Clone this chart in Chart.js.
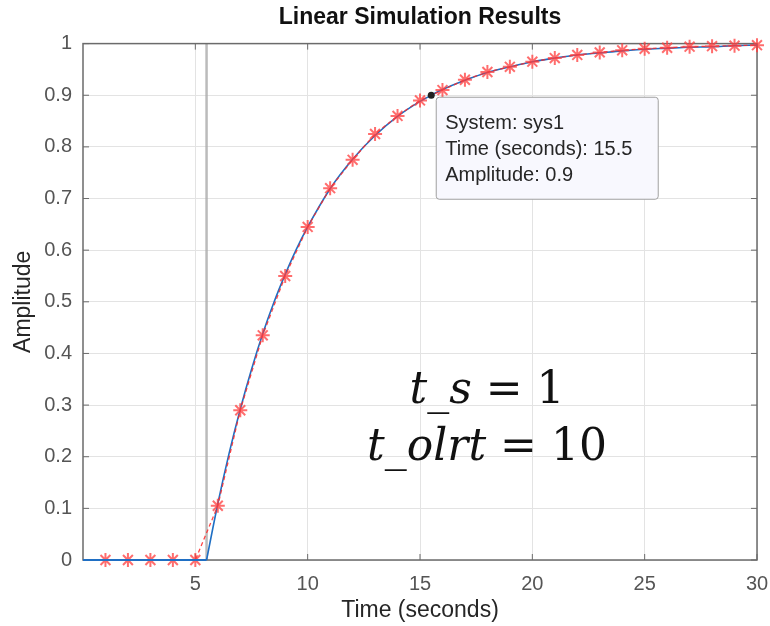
<!DOCTYPE html>
<html>
<head>
<meta charset="utf-8">
<script src="https://cdn.jsdelivr.net/npm/chart.js@4/dist/chart.umd.min.js"></script>
<style>
  html, body { margin: 0; padding: 0; background: #fff; }
  #wrap { width: 770px; height: 626px; }
</style>
</head>
<body>
<div id="wrap"><canvas id="chart"></canvas></div>
<script>
// simulated response (blue line)
const simTime = [0, 5.5, 6, 6.5, 7, 7.5, 8, 8.5, 9, 9.5, 10, 11, 12, 13, 14, 15, 15.5, 16, 17, 18, 19, 20, 21, 22, 23, 24, 25, 26, 27, 28, 29, 30];
const simAmp  = [0, 0, 0.109, 0.206, 0.292, 0.369, 0.438, 0.499, 0.553, 0.602, 0.645, 0.719, 0.776, 0.822, 0.859, 0.888, 0.9, 0.911, 0.929, 0.944, 0.955, 0.965, 0.972, 0.978, 0.982, 0.986, 0.989, 0.991, 0.993, 0.994, 0.996, 0.997];

// sampled points (red stars)
const sampleTime = [1, 2, 3, 4, 5, 6, 7, 8, 9, 10, 11, 12, 13, 14, 15, 16, 17, 18, 19, 20, 21, 22, 23, 24, 25, 26, 27, 28, 29, 30];
const sampleAmp  = [0, 0, 0, 0, 0, 0.105, 0.29, 0.435, 0.55, 0.645, 0.72, 0.775, 0.825, 0.86, 0.89, 0.91, 0.93, 0.945, 0.955, 0.965, 0.972, 0.978, 0.983, 0.987, 0.99, 0.992, 0.994, 0.995, 0.996, 0.997];

const delayTime = 5.5;
const tipTime = 15.5;
const tipAmp = 0.9;
const tipLines = ['System: sys1', 'Time (seconds): 15.5', 'Amplitude: 0.9'];
const xTicks = [5, 10, 15, 20, 25, 30];
const yTicks = [0, 0.1, 0.2, 0.3, 0.4, 0.5, 0.6, 0.7, 0.8, 0.9, 1];

const simPts = simTime.map((t, i) => ({x: t, y: simAmp[i]}));
const samplePts = sampleTime.map((t, i) => ({x: t, y: sampleAmp[i]}));
// flat part before the delay, then the rise (so the corner stays sharp)
const simFlat = simPts.filter(p => p.x <= delayTime);
const simRise = simPts.filter(p => p.x >= delayTime);

const sans = '"Liberation Sans", Arial, sans-serif';

// extras: delay line, box, inward ticks, data tip, math note
const extras = {
    id: 'extras',
    beforeDatasetsDraw(chart) {
        const {ctx, chartArea: a, scales: {x, y}} = chart;
        ctx.save();
        const px = x.getPixelForValue(delayTime);
        ctx.strokeStyle = 'rgba(170,170,170,0.8)';
        ctx.lineWidth = 2.5;
        ctx.beginPath();
        ctx.moveTo(px, a.top);
        ctx.lineTo(px, a.bottom);
        ctx.stroke();
        // axes box
        ctx.strokeStyle = '#6b6b6b';
        ctx.lineWidth = 1.5;
        ctx.strokeRect(a.left, a.top, a.right - a.left, a.bottom - a.top);
        // inward ticks
        ctx.lineWidth = 1;
        ctx.beginPath();
        xTicks.forEach(v => {
            const p = x.getPixelForValue(v);
            ctx.moveTo(p, a.bottom); ctx.lineTo(p, a.bottom - 6);
            ctx.moveTo(p, a.top); ctx.lineTo(p, a.top + 6);
        });
        yTicks.forEach(v => {
            const p = y.getPixelForValue(v);
            ctx.moveTo(a.left, p); ctx.lineTo(a.left + 6, p);
            ctx.moveTo(a.right, p); ctx.lineTo(a.right - 6, p);
        });
        ctx.stroke();
        ctx.restore();
    },
    afterDraw(chart) {
        const {ctx, scales: {x, y}} = chart;
        ctx.save();
        // data tip
        const tx = x.getPixelForValue(tipTime);
        const ty = y.getPixelForValue(tipAmp);
        const bx = tx + 5, by = ty + 2, bw = 222, bh = 102;
        ctx.fillStyle = '#f8f8fe';
        ctx.strokeStyle = '#a0a0a0';
        ctx.lineWidth = 1;
        ctx.beginPath();
        ctx.roundRect(bx, by, bw, bh, 3);
        ctx.fill();
        ctx.stroke();
        ctx.fillStyle = '#222';
        ctx.beginPath();
        ctx.arc(tx, ty, 3.5, 0, Math.PI * 2);
        ctx.fill();
        ctx.font = '20px ' + sans;
        ctx.fillStyle = '#262626';
        ctx.textBaseline = 'middle';
        tipLines.forEach((s, i) => ctx.fillText(s, bx + 9, by + 26 + i * 26));

        // math note
        const drawMath = (parts, cx, base) => {
            let w = 0;
            parts.forEach(p => { ctx.font = p[1]; w += ctx.measureText(p[0]).width; });
            let xx = cx - w / 2;
            ctx.fillStyle = '#111';
            ctx.textBaseline = 'alphabetic';
            parts.forEach(p => { ctx.font = p[1]; ctx.fillText(p[0], xx, base); xx += ctx.measureText(p[0]).width; });
        };
        const it = 'italic 44px "DejaVu Serif", serif';
        const up = '44px "DejaVu Serif", serif';
        drawMath([['t_s', it], [' = 1', up]], 487, 403);
        drawMath([['t_olrt', it], [' = 10', up]], 487, 460);
        ctx.restore();
    }
};

const blue = '#1f6fc4';
const ctx = document.getElementById('chart').getContext('2d');
new Chart(ctx, {
    type: 'scatter',
    data: {
        datasets: [{
            label: 'sys1',
            data: simFlat,
            showLine: true,
            clip: false,
            borderColor: blue,
            borderWidth: 2,
            pointRadius: 0,
            order: 0
        }, {
            label: 'sys1 rise',
            data: simRise,
            showLine: true,
            clip: false,
            borderColor: blue,
            borderWidth: 1.6,
            pointRadius: 0,
            cubicInterpolationMode: 'monotone',
            order: 2
        }, {
            label: 'samples',
            data: samplePts,
            showLine: true,
            clip: false,
            borderColor: 'rgba(255,40,40,0.85)',
            borderWidth: 1.3,
            borderDash: [4, 3],
            pointStyle: 'star',
            pointRadius: 7,
            pointBorderWidth: 2,
            pointBorderColor: 'rgba(255,60,60,0.75)',
            pointBackgroundColor: 'rgba(255,60,60,0.75)',
            order: 1
        }]
    },
    options: {
        responsive: true,
        maintainAspectRatio: false,
        animation: false,
        layout: { padding: { left: 0, right: 13, top: 0, bottom: 0 } },
        plugins: {
            legend: { display: false },
            tooltip: { enabled: false },
            title: {
                display: true,
                fullSize: false,
                text: 'Linear Simulation Results',
                color: '#111',
                font: { family: sans, size: 23, weight: 'bold' },
                padding: { top: 4, bottom: 12 }
            }
        },
        scales: {
            x: {
                type: 'linear',
                min: 0,
                max: 30,
                afterBuildTicks: s => { s.ticks = xTicks.map(v => ({value: v})); },
                afterFit: s => { s.height = 66; s.paddingRight = 0; s.paddingLeft = 0; },
                grid: { color: '#e3e3e3', drawTicks: false },
                border: { display: false },
                ticks: {
                    color: '#555',
                    padding: 12,
                    maxRotation: 0,
                    font: { family: sans, size: 20 }
                },
                title: {
                    display: true,
                    text: 'Time (seconds)',
                    color: '#262626',
                    font: { family: sans, size: 23 },
                    padding: { top: 0, bottom: 2 }
                }
            },
            y: {
                min: 0,
                max: 1,
                afterBuildTicks: s => { s.ticks = yTicks.map(v => ({value: v})); },
                afterFit: s => { s.width = 83; s.paddingTop = 0; s.paddingBottom = 0; },
                grid: { color: '#e3e3e3', drawTicks: false },
                border: { display: false },
                ticks: {
                    color: '#555',
                    padding: 11,
                    font: { family: sans, size: 20 },
                    callback: v => String(v)
                },
                title: {
                    display: true,
                    text: 'Amplitude',
                    color: '#262626',
                    font: { family: sans, size: 23 },
                    padding: { top: 10, bottom: 0 }
                }
            }
        }
    },
    plugins: [extras]
});
</script>
</body>
</html>
